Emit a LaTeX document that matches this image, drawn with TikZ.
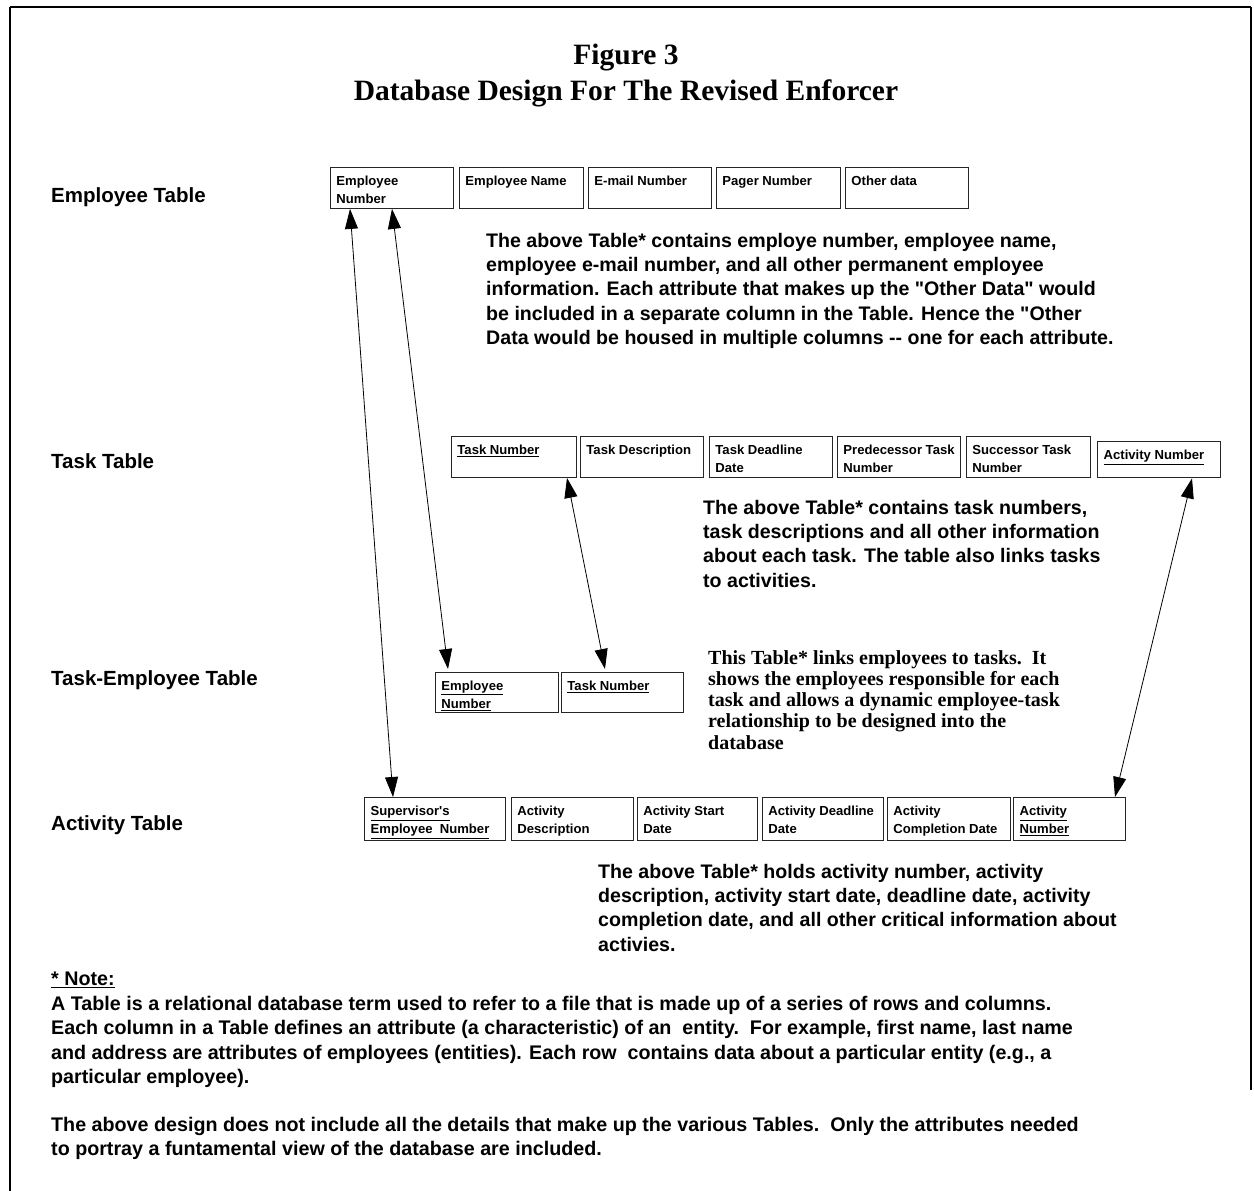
\documentclass[tikz,border=0pt]{standalone}
\usepackage{fontspec}
\setmainfont{Liberation Sans}
\newfontfamily\serifface{Liberation Serif}
\usetikzlibrary{arrows.meta}

% cell text: top-left aligned inside a fixed-height box
\newcommand\celltext[3]{\parbox[c][#2pt][t]{#1pt}{\raggedright\leftskip=6pt\rule{0pt}{18pt}#3}}

\begin{document}
\begin{tikzpicture}[x=1pt,y=-1pt,
  cell/.style={draw=black!85, line width=0.9pt, anchor=north west, inner sep=0pt,
    font=\fontsize{13.1}{18}\selectfont\bfseries},
  keycell/.style={cell, line width=1.4pt},
  rowlabel/.style={anchor=base west, inner sep=0pt, font=\fontsize{20.5}{24}\selectfont\bfseries},
  para/.style={anchor=north west, inner sep=0pt, align=left,
    font=\fontsize{19.6}{24.2}\selectfont\bfseries},
  seripara/.style={anchor=north west, inner sep=0pt, align=left,
    font=\fontsize{20}{21.3}\selectfont\serifface\bfseries},
  note/.style={anchor=north west, inner sep=0pt, align=left,
    font=\fontsize{19.7}{24.4}\selectfont\bfseries},
  link/.style={line width=0.8pt,
    {Triangle[length=20pt,width=13pt]}-{Triangle[length=20pt,width=13pt]}}
]
\useasboundingbox (0,0) rectangle (1254,1191);
\fill[white] (0,0) rectangle (1254,1191);

% page frame
\draw[line width=1.2pt] (10,1191) -- (10,7);
\draw[line width=2pt] (10,7) -- (1251,7);
\draw[line width=1.4pt] (1251,7) -- (1251,1090);

% title
\node[font=\fontsize{29.5}{36}\selectfont\serifface\bfseries, align=center] (title)
  at (626,76) {Figure 3\\Database Design For The Revised Enforcer};

% row labels
\node[rowlabel] (lemp) at (51,202) {Employee Table};
\node[rowlabel] (ltask) at (51,468) {Task Table};
\node[rowlabel] (lte) at (51,685) {Task-Employee Table};
\node[rowlabel] (lact) at (51,830) {Activity Table};

% employee table
\node[cell] (e1) at (330,167) {\celltext{123}{41}{Employee\\Number}};
\node[cell] (e2) at (459,167) {\celltext{124}{41}{Employee Name}};
\node[cell] (e3) at (588,167) {\celltext{123}{41}{E-mail Number}};
\node[cell] (e4) at (716,167) {\celltext{124}{41}{Pager Number}};
\node[cell] (e5) at (845,167) {\celltext{123}{41}{Other data}};

% task table
\node[cell] (t1) at (451,436) {\celltext{125}{41}{\underline{Task Number}}};
\node[cell] (t2) at (580,436) {\celltext{123}{41}{Task Description}};
\node[cell] (t3) at (709,436) {\celltext{123}{41}{Task Deadline\\Date}};
\node[cell] (t4) at (837,436) {\celltext{123}{41}{Predecessor Task\\Number}};
\node[cell] (t5) at (966,436) {\celltext{124}{41}{Successor Task\\Number}};
\node[keycell] (t6) at (1097,441) {\celltext{123}{36}{\underline{Activity Number}}};

% task-employee table
\node[cell] (te1) at (435,672) {\celltext{123}{40}{\underline{Employee}\\\underline{Number}}};
\node[cell] (te2) at (561,672) {\celltext{122}{40}{\underline{Task Number}}};

% activity table
\node[keycell] (a1) at (364,797) {\celltext{141}{43}{\underline{Supervisor\textquotesingle s}\\\underline{Employee\ \ Number}}};
\node[cell] (a2) at (511,797) {\celltext{122}{43}{Activity\\Description}};
\node[cell] (a3) at (637,797) {\celltext{120}{43}{Activity Start\\Date}};
\node[cell] (a4) at (762,797) {\celltext{121}{43}{Activity Deadline\\Date}};
\node[cell] (a5) at (887,797) {\celltext{123}{43}{Activity\\Completion Date}};
\node[keycell] (a6) at (1013,797) {\celltext{112}{43}{\underline{Activity}\\\underline{Number}}};

% link end points on the cell edges
\coordinate (pe1) at ([xshift=20pt]e1.south west);
\coordinate (pe2) at ([xshift=62pt]e1.south west);
\coordinate (pa1) at ([xshift=29pt]a1.north west);
\coordinate (pte1) at ([xshift=13pt,yshift=3pt]te1.north west);
\coordinate (pte2) at ([xshift=44pt,yshift=3pt]te2.north west);
\coordinate (pt1) at ([xshift=116pt]t1.south west);
\coordinate (pt6) at ([xshift=95pt]t6.south west);
\coordinate (pa6) at ([xshift=102pt]a6.north west);

\draw[link] (pe1) -- (pa1);
\draw[link] (pe2) -- (pte1);
\draw[link] (pt1) -- (pte2);
\draw[link] (pt6) -- (pa6);

% descriptions
\node[para] (d1) at (486,233) {The above Table* contains employe number, employee name,\\
employee e-mail number, and all other permanent employee\\
information. Each attribute that makes up the \textquotedbl Other Data\textquotedbl{} would\\
be included in a separate column in the Table. Hence the \textquotedbl Other\\
Data would be housed in multiple columns -{}- one for each attribute.};

\node[para] (d2) at (703,500) {The above Table* contains task numbers,\\
task descriptions and all other information\\
about each task. The table also links tasks\\
to activities.};

\node[seripara] (d3) at (708,650) {This Table* links employees to tasks.\ \ It\\
shows the employees responsible for each\\
task and allows a dynamic employee-task\\
relationship to be designed into the\\
database};

\node[para] (d4) at (598,864) {The above Table* holds activity number, activity\\
description, activity start date, deadline date, activity\\
completion date, and all other critical information about\\
activies.};

% note
\node[anchor=north west, inner sep=0pt, font=\fontsize{19.7}{24}\selectfont\bfseries] (nh)
  at (51,972) {\underline{* Note:}};
\node[note] (n1) at (51,996) {A Table is a relational database term used to refer to a file that is made up of a series of rows and columns.\\
Each column in a Table defines an attribute (a characteristic) of an\ \ entity.\ \ For example, first name, last name\\
and address are attributes of employees (entities). Each row\ \ contains data about a particular entity (e.g., a\\
particular employee).};
\node[note] (n2) at (51,1117) {The above design does not include all the details that make up the various Tables.\ \ Only the attributes needed\\
to portray a funtamental view of the database are included.};
\end{tikzpicture}
\end{document}
